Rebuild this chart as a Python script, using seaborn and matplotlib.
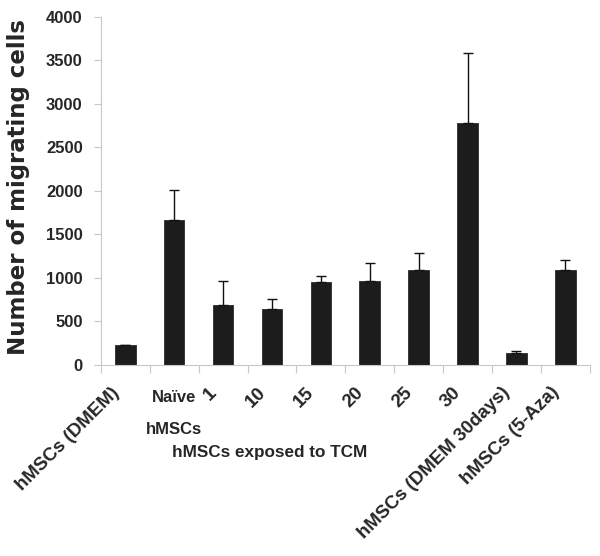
import matplotlib
matplotlib.use('Agg')
import matplotlib.pyplot as plt
from matplotlib.ticker import FixedLocator
from matplotlib.transforms import ScaledTranslation
import numpy as np
import pandas as pd
import seaborn as sns

# Data
groups = ['hMSCs (DMEM)', 'Naïve\nhMSCs', '1', '10', '15', '20', '25', '30',
          'hMSCs (DMEM 30days)', 'hMSCs (5-Aza)']
migrating = [235, 1665, 690, 640, 955, 968, 1090, 2780, 140, 1090]
err_up = [0, 340, 278, 122, 72, 207, 192, 808, 20, 112]
y_ticks = [0, 500, 1000, 1500, 2000, 2500, 3000, 3500, 4000]

df = pd.DataFrame({'group': groups, 'cells': migrating, 'err': err_up})

sns.set_style('white')
plt.rcParams['font.family'] = ['Liberation Sans', 'DejaVu Sans']
plt.rcParams['font.weight'] = 'bold'

fig = plt.figure(figsize=(6, 5.56), dpi=100)
ax = fig.add_axes([0.168, 0.3435, 0.815, 0.6265])

sns.barplot(
    data=df, x='group', y='cells', order=groups,
    color='#1c1c1c', width=0.42, edgecolor='#2a2a2a', linewidth=0.6,
    errorbar=None, ax=ax
)
# Only upper error bars, as in the original
ax.errorbar(
    np.arange(len(groups)), df['cells'],
    yerr=[np.zeros(len(groups)), df['err']],
    fmt='none', ecolor='#111111', elinewidth=1, capsize=3.5, capthick=1
)

ax.set_xlim(-0.5, len(groups) - 0.5)
ax.set_ylim(0, 4000)
ax.set_yticks(y_ticks)
ax.set_yticklabels([str(t) for t in y_ticks], fontsize=12, fontweight='bold')

# category ticks sit between the bars
ax.xaxis.set_minor_locator(FixedLocator(np.arange(-0.5, len(groups), 1.0)))
ax.tick_params(axis='x', which='major', length=0, pad=18)
ax.tick_params(axis='x', which='minor', length=6, color='#c8c8c8', width=0.8,
               direction='out', bottom=True)
ax.tick_params(axis='y', length=5, color='#c8c8c8', width=0.8,
               direction='out', left=True, pad=8)

labels = ax.set_xticklabels(groups, fontweight='bold')
shift = ScaledTranslation(-9 / 100, 0, fig.dpi_scale_trans)
for i, lab in enumerate(labels):
    if i == 1:
        lab.set_fontsize(12)
        lab.set_rotation(0)
        lab.set_ha('center')
        lab.set_va('top')
        lab.set_linespacing(2.45)
    else:
        lab.set_fontsize(13.5)
        lab.set_rotation(45)
        lab.set_ha('right')
        lab.set_va('center')
        lab.set_rotation_mode('anchor')
        lab.set_transform(lab.get_transform() + shift)

for side in ['top', 'right']:
    ax.spines[side].set_visible(False)
for side in ['left', 'bottom']:
    ax.spines[side].set_color('#c8c8c8')
    ax.spines[side].set_linewidth(0.8)

ax.set_xlabel('hMSCs exposed to TCM', fontsize=12.3, fontweight='bold')
ax.xaxis.set_label_coords(0.346, -0.25)
ax.xaxis.label.set_va('center')
ax.set_ylabel('Number of migrating cells', fontsize=16.5, fontweight='bold',
              family=['DejaVu Sans'])
ax.yaxis.set_label_coords(-0.169, 0.51)
ax.yaxis.label.set_va('center')

fig.savefig('out.png', dpi=100)
